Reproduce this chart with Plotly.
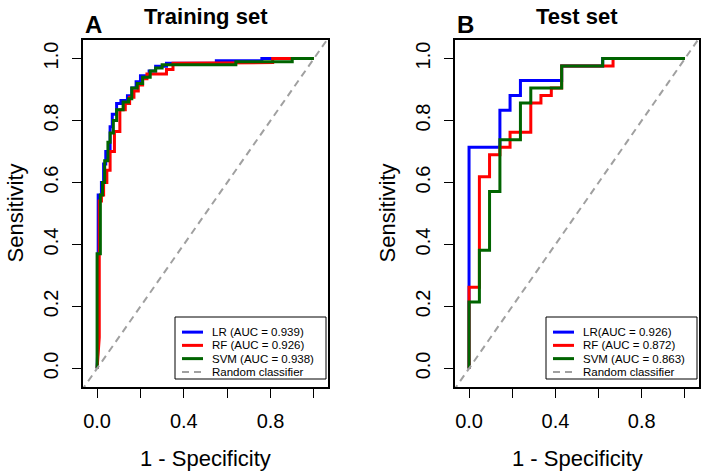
import plotly.graph_objects as go

# ---------------- Data ----------------
# Training set ROC corners (fpr, tpr)
train_lr_fpr = [0, 0.005, 0.005, 0.02, 0.02, 0.03, 0.03, 0.04, 0.04, 0.06, 0.06, 0.07, 0.07, 0.09, 0.09, 0.11, 0.11, 0.14, 0.14, 0.16, 0.16, 0.18, 0.18, 0.20, 0.20, 0.24, 0.24, 0.27, 0.27, 0.32, 0.32, 0.55, 0.55, 0.76, 0.76, 1.0]
train_lr_tpr = [0, 0.10, 0.56, 0.56, 0.60, 0.60, 0.66, 0.66, 0.70, 0.70, 0.78, 0.78, 0.82, 0.82, 0.855, 0.855, 0.865, 0.865, 0.88, 0.88, 0.905, 0.905, 0.925, 0.925, 0.945, 0.945, 0.96, 0.96, 0.975, 0.975, 0.985, 0.985, 0.993, 0.993, 1.0, 1.0]

train_rf_fpr = [0, 0.01, 0.01, 0.02, 0.02, 0.03, 0.03, 0.045, 0.045, 0.06, 0.06, 0.08, 0.08, 0.105, 0.105, 0.13, 0.13, 0.15, 0.15, 0.17, 0.17, 0.19, 0.19, 0.21, 0.21, 0.23, 0.23, 0.32, 0.32, 0.35, 0.35, 0.38, 0.38, 0.81, 0.81, 1.0]
train_rf_tpr = [0, 0.10, 0.54, 0.54, 0.56, 0.56, 0.60, 0.60, 0.64, 0.64, 0.70, 0.70, 0.765, 0.765, 0.835, 0.835, 0.855, 0.855, 0.875, 0.875, 0.895, 0.895, 0.915, 0.915, 0.935, 0.935, 0.95, 0.95, 0.965, 0.965, 0.985, 0.985, 0.987, 0.987, 1.0, 1.0]

train_svm_fpr = [0, 0, 0.015, 0.015, 0.025, 0.025, 0.035, 0.035, 0.05, 0.05, 0.06, 0.06, 0.075, 0.075, 0.09, 0.09, 0.12, 0.12, 0.145, 0.145, 0.16, 0.16, 0.185, 0.185, 0.21, 0.21, 0.245, 0.245, 0.27, 0.27, 0.30, 0.30, 0.64, 0.64, 0.90, 0.90, 1.0]
train_svm_tpr = [0, 0.37, 0.37, 0.56, 0.56, 0.60, 0.60, 0.67, 0.67, 0.73, 0.73, 0.76, 0.76, 0.80, 0.80, 0.835, 0.835, 0.86, 0.86, 0.87, 0.87, 0.905, 0.905, 0.92, 0.92, 0.94, 0.94, 0.96, 0.96, 0.97, 0.97, 0.98, 0.98, 0.99, 0.99, 1.0, 1.0]

# Test set ROC corners (fpr, tpr)
test_lr_fpr = [0, 0, 0.143, 0.143, 0.190, 0.190, 0.238, 0.238, 0.429, 0.429, 0.619, 0.619, 1.0]
test_lr_tpr = [0, 0.714, 0.714, 0.833, 0.833, 0.881, 0.881, 0.929, 0.929, 0.976, 0.976, 1.0, 1.0]

test_rf_fpr = [0, 0, 0.048, 0.048, 0.095, 0.095, 0.143, 0.143, 0.190, 0.190, 0.286, 0.286, 0.333, 0.333, 0.381, 0.381, 0.429, 0.429, 0.667, 0.667, 1.0]
test_rf_tpr = [0, 0.262, 0.262, 0.619, 0.619, 0.690, 0.690, 0.714, 0.714, 0.762, 0.762, 0.857, 0.857, 0.881, 0.881, 0.905, 0.905, 0.976, 0.976, 1.0, 1.0]

test_svm_fpr = [0, 0, 0.048, 0.048, 0.095, 0.095, 0.143, 0.143, 0.238, 0.238, 0.286, 0.286, 0.429, 0.429, 0.619, 0.619, 1.0]
test_svm_tpr = [0, 0.214, 0.214, 0.381, 0.381, 0.571, 0.571, 0.738, 0.738, 0.857, 0.857, 0.905, 0.905, 0.976, 0.976, 1.0, 1.0]

diag = [-0.2, 1.2]

train_names = ["LR (AUC = 0.939)", "RF (AUC = 0.926)", "SVM (AUC = 0.938)", "Random classifier"]
test_names = ["LR(AUC = 0.926)", "RF (AUC = 0.872)", "SVM (AUC = 0.863)", "Random classifier"]

tick_vals = [0, 0.2, 0.4, 0.6, 0.8, 1.0]
x_tick_text = ["0.0", "", "0.4", "", "0.8", ""]
y_tick_text = ["0.0", "0.2", "0.4", "0.6", "0.8", "1.0"]

colors = ["#0000FF", "#FF0000", "#006400"]
DIAG_COLOR = "#A0A0A0"
FONT = "Liberation Sans, Arial, sans-serif"
W, H = 702, 472

fig = go.Figure()
shapes = []
ann = []


def add_panel(curves, names, xa, ya, box):
    for (fx, ty), name, col in zip(curves, names[:3], colors):
        fig.add_trace(go.Scatter(x=fx, y=ty, mode="lines", name=name,
                                 line=dict(color=col, width=3),
                                 xaxis=xa, yaxis=ya, showlegend=False))
    fig.add_trace(go.Scatter(x=diag, y=diag, mode="lines", name=names[3],
                             line=dict(color=DIAG_COLOR, width=2, dash="7px,5px"),
                             xaxis=xa, yaxis=ya, showlegend=False))
    # legend drawn in pixel layout (paper coordinates)
    bx0, by0, bx1, by1 = box
    shapes.append(dict(type="rect", xref="paper", yref="paper",
                       x0=bx0 / W, x1=bx1 / W, y0=1 - by0 / H, y1=1 - by1 / H,
                       line=dict(color="black", width=1), fillcolor="white", layer="above"))
    step = (by1 - by0 - 9) / 4.0
    for i, name in enumerate(names):
        yy = by0 + 8.5 + step * (i + 0.5)
        col = colors[i] if i < 3 else DIAG_COLOR
        shapes.append(dict(type="line", xref="paper", yref="paper",
                           x0=(bx0 + 7) / W, x1=(bx0 + 28) / W, y0=1 - yy / H, y1=1 - yy / H,
                           line=dict(color=col, width=3 if i < 3 else 2,
                                     dash="solid" if i < 3 else "7px,5px"),
                           layer="above"))
        ann.append(dict(x=(bx0 + 35) / W, y=1 - yy / H, xref="paper", yref="paper", text=name,
                        showarrow=False, xanchor="left", yanchor="middle",
                        font=dict(family=FONT, size=11.5, color="black")))


add_panel([(train_lr_fpr, train_lr_tpr), (train_rf_fpr, train_rf_tpr), (train_svm_fpr, train_svm_tpr)],
          train_names, "x", "y", (175, 317, 326, 379))
add_panel([(test_lr_fpr, test_lr_tpr), (test_rf_fpr, test_rf_tpr), (test_svm_fpr, test_svm_tpr)],
          test_names, "x2", "y2", (546, 317, 697, 379))

ydom = [(H - 387) / H, (H - 40) / H]

axis_common = dict(showgrid=False, zeroline=False, showline=True, linecolor="black", linewidth=2,
                   mirror=True, ticks="outside", ticklen=9, tickwidth=1, tickcolor="black",
                   tickfont=dict(family=FONT, size=20, color="black"), tickvals=tick_vals)

fig.update_layout(
    width=W, height=H, margin=dict(l=0, r=0, t=0, b=0),
    paper_bgcolor="white", plot_bgcolor="white",
    font=dict(family=FONT, color="black"),
    showlegend=False,
    xaxis=dict(domain=[83 / W, 328 / W], range=[-0.065, 1.065], ticktext=x_tick_text, anchor="y",
               ticklabelstandoff=6, **axis_common),
    yaxis=dict(domain=ydom, range=[-0.06, 1.06], ticktext=y_tick_text, tickangle=-90, anchor="x",
               ticklabelstandoff=6, **axis_common),
    xaxis2=dict(domain=[455 / W, 699 / W], range=[-0.065, 1.065], ticktext=x_tick_text, anchor="y2",
                ticklabelstandoff=6, **axis_common),
    yaxis2=dict(domain=ydom, range=[-0.06, 1.06], ticktext=y_tick_text, tickangle=-90, anchor="x2",
                ticklabelstandoff=6, **axis_common),
)

for cx, title, letter, lx in [(205.5, "Training set", "A", 83), (577, "Test set", "B", 455)]:
    ann.append(dict(x=cx / W, y=(H - 16) / H, xref="paper", yref="paper", text="<b>%s</b>" % title,
                    showarrow=False, font=dict(family=FONT, size=22, color="black"),
                    xanchor="center", yanchor="middle"))
    ann.append(dict(x=lx / W, y=(H - 25) / H, xref="paper", yref="paper", text="<b>%s</b>" % letter,
                    showarrow=False, font=dict(family=FONT, size=24, color="black"),
                    xanchor="left", yanchor="middle"))
    ann.append(dict(x=cx / W, y=(H - 458) / H, xref="paper", yref="paper", text="1 - Specificity",
                    showarrow=False, font=dict(family=FONT, size=22, color="black"),
                    xanchor="center", yanchor="middle"))
for sx in [15, 387]:
    ann.append(dict(x=sx / W, y=(H - 213.5) / H, xref="paper", yref="paper", text="Sensitivity",
                    showarrow=False, textangle=-90, font=dict(family=FONT, size=22, color="black"),
                    xanchor="center", yanchor="middle"))

fig.update_layout(annotations=ann, shapes=shapes)

fig.write_html("out.html")
